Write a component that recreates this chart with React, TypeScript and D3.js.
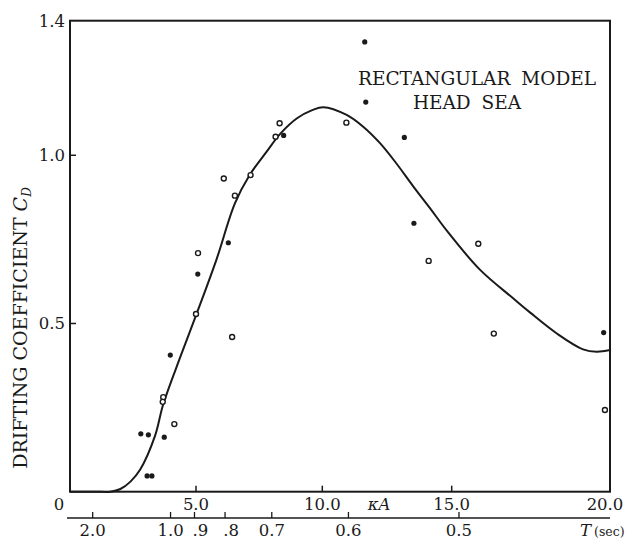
import { useEffect } from 'react'
import * as d3 from 'd3'

const W = 626
const H = 539

// kappa*A axis (upper scale) and drifting coefficient axis
const kaTickValues = [5, 10, 15]
const kaLabelValues = [0, 5, 10, 15, 20]
const kaLabels = ['0', '5.0', '10.0', '15.0', '20.0']
const cdTickValues = [0.5, 1.0]
const cdLabelValues = [0.5, 1.0, 1.4]
const cdLabels = ['0.5', '1.0', '1.4']

// wave period T (lower scale), placed at the kappa*A value it sits under
const periodLabels = ['2.0', '1.0', '.9', '.8', '0.7', '0.6', '0.5']
const periodAtKA = [0.9, 3.99, 4.94, 6.15, 8.0, 11.01, 15.23]

// fitted curve
const curveKA = [0, 1.0, 1.6, 2.0, 2.4, 2.78, 3.37, 3.7, 4.4, 5.03, 5.81, 6.54, 7.13, 7.79, 8.35, 9.0, 9.6, 10.04, 10.94, 11.58, 12.23, 12.85, 13.52, 14.16, 14.81, 15.89, 16.95, 17.47, 18.31, 19.15, 19.58, 20]
const curveCD = [0, 0, 0, 0.008, 0.03, 0.065, 0.165, 0.26, 0.405, 0.53, 0.69, 0.857, 0.942, 1.01, 1.065, 1.11, 1.134, 1.143, 1.12, 1.085, 1.036, 0.977, 0.907, 0.843, 0.776, 0.66, 0.574, 0.533, 0.471, 0.423, 0.416, 0.421]

// measured points: open circles
const openKA = [6.1, 7.16, 6.54, 5.08, 5.0, 6.43, 3.7, 3.68, 4.14, 10.93, 14.11, 15.84, 16.33, 19.84, 8.31, 8.15]
const openCD = [0.931, 0.941, 0.88, 0.709, 0.528, 0.46, 0.281, 0.267, 0.201, 1.097, 0.686, 0.737, 0.47, 0.243, 1.095, 1.055]

// measured points: solid dots
const solidKA = [6.28, 5.07, 3.98, 2.81, 3.11, 3.74, 3.06, 3.25, 11.64, 11.68, 8.47, 13.17, 13.54, 19.8]
const solidCD = [0.74, 0.647, 0.406, 0.172, 0.169, 0.162, 0.047, 0.047, 1.337, 1.158, 1.059, 1.053, 0.798, 0.473]

const INK = '#1a1a1a'
const FONT = '"DejaVu Serif", serif'

export default function App() {
  useEffect(() => {
    document.body.style.margin = '0'
  }, [])

  const left = 70
  const right = 610
  const top = 20.7
  const bottom = 491.7
  const tAxisY = 518

  // the printed kappa*A scale is not evenly spaced toward 20
  const x = d3.scaleLinear().domain([0, 5, 10, 15, 20]).range([left, 196, 322.3, 451.7, right])
  const y = d3.scaleLinear().domain([0, 1.4]).range([bottom, top])

  const line = d3
    .line<number>()
    .x((_, i) => x(curveKA[i]))
    .y((d) => y(d))
    .curve(d3.curveCatmullRom.alpha(0.5))

  return (
    <svg width={W} height={H} style={{ display: 'block', background: '#fff' }} fontFamily={FONT}>
      <rect x={0} y={0} width={W} height={H} fill="#fff" />

      {/* frame */}
      <rect x={left} y={top} width={right - left} height={bottom - top} fill="none" stroke={INK} strokeWidth={2} />

      {/* left ticks + labels */}
      {cdTickValues.map((v) => (
        <line key={'yt' + v} x1={left} x2={left + 6} y1={y(v)} y2={y(v)} stroke={INK} strokeWidth={1.5} />
      ))}
      {cdLabelValues.map((v, i) => (
        <text key={'yl' + v} x={left - 5} y={y(v)} dy="0.36em" textAnchor="end" fontSize={16.5} fill={INK}>
          {cdLabels[i]}
        </text>
      ))}

      {/* bottom ticks + labels */}
      {kaTickValues.map((v) => (
        <line key={'xt' + v} x1={x(v)} x2={x(v)} y1={bottom} y2={bottom - 6} stroke={INK} strokeWidth={1.5} />
      ))}
      {kaLabelValues.map((v, i) => (
        <text
          key={'xl' + v}
          x={v === 0 ? x(v) - 11 : v === 20 ? x(v) - 5 : x(v)}
          y={bottom + 18}
          textAnchor="middle"
          fontSize={16.5}
          fill={INK}
        >
          {kaLabels[i]}
        </text>
      ))}
      <text x={379} y={bottom + 18} textAnchor="middle" fontSize={16.5} fill={INK} fontStyle="italic">
        κA
      </text>

      {/* period axis */}
      <line x1={left - 3} x2={right} y1={tAxisY} y2={tAxisY} stroke={INK} strokeWidth={1.5} />
      {periodAtKA.map((v, i) => (
        <g key={'pt' + i}>
          <line x1={x(v)} x2={x(v)} y1={tAxisY} y2={tAxisY - 6} stroke={INK} strokeWidth={1.3} />
          <text
            x={x(v) + (periodLabels[i].startsWith('.') ? 6 : 0)}
            y={tAxisY + 18}
            textAnchor="middle"
            fontSize={16.5}
            fill={INK}
          >
            {periodLabels[i]}
          </text>
        </g>
      ))}
      <text x={580} y={tAxisY + 18} fontSize={16.5} fill={INK} fontStyle="italic">
        T
      </text>
      <text x={594} y={tAxisY + 18} fontSize={12.5} fill={INK}>
        (sec)
      </text>

      {/* y title */}
      <text transform={`translate(27,${328}) rotate(-90)`} textAnchor="middle" fontSize={19} fill={INK}>
        DRIFTING COEFFICIENT <tspan fontStyle="italic">C</tspan>
        <tspan fontStyle="italic" fontSize={12} dy={4}>
          D
        </tspan>
      </text>

      {/* annotation */}
      <text x={477} y={85} textAnchor="middle" fontSize={18.5} fill={INK} wordSpacing={5}>
        RECTANGULAR MODEL
      </text>
      <text x={467} y={109} textAnchor="middle" fontSize={18.5} fill={INK} wordSpacing={5}>
        HEAD SEA
      </text>

      {/* curve */}
      <path d={line(curveCD) ?? ''} fill="none" stroke={INK} strokeWidth={2} />

      {/* points */}
      {openKA.map((v, i) => (
        <circle key={'o' + i} cx={x(v)} cy={y(openCD[i])} r={2.5} fill="#fff" stroke={INK} strokeWidth={1.4} />
      ))}
      {solidKA.map((v, i) => (
        <circle key={'s' + i} cx={x(v)} cy={y(solidCD[i])} r={2.6} fill={INK} />
      ))}
    </svg>
  )
}
